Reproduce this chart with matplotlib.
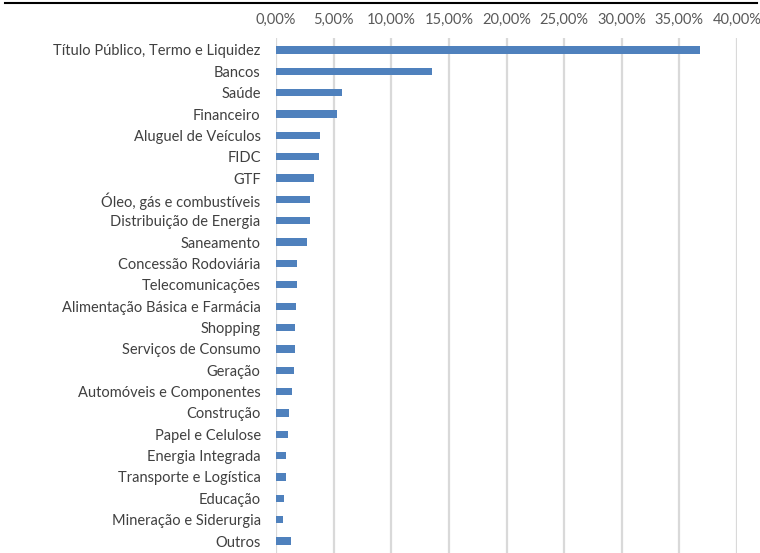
import numpy as np
import matplotlib.pyplot as plt
from matplotlib.lines import Line2D
from matplotlib.ticker import FuncFormatter

setores = [
    "Título Público, Termo e Liquidez", "Bancos", "Saúde", "Financeiro",
    "Aluguel de Veículos", "FIDC", "GTF", "Óleo, gás e combustíveis",
    "Distribuição de Energia", "Saneamento", "Concessão Rodoviária",
    "Telecomunicações", "Alimentação Básica e Farmácia", "Shopping",
    "Serviços de Consumo", "Geração", "Automóveis e Componentes",
    "Construção", "Papel e Celulose", "Energia Integrada",
    "Transporte e Logística", "Educação", "Mineração e Siderurgia", "Outros",
]
pesos = [
    36.8, 13.56, 5.74, 5.28, 3.86, 3.69, 3.28, 2.94, 2.93, 2.73, 1.84,
    1.81, 1.72, 1.69, 1.64, 1.52, 1.37, 1.11, 1.06, 0.91, 0.88, 0.68,
    0.65, 1.26,
]
ticks = np.arange(0, 45, 5)

plt.rcParams['font.family'] = ['Lato', 'DejaVu Sans']

fig = plt.figure(figsize=(7.6, 5.53), dpi=100)
ax = fig.add_axes([276 / 760, 0, (737 - 276) / 760, 1 - 38 / 553])

y = np.arange(len(setores))
ax.barh(y, pesos, height=0.34, color='#4F81BD', zorder=3)

ax.set_xlim(0, 40)
ax.set_ylim(len(setores) - 0.44, -0.56)
ax.set_yticks(y)
ax.set_yticklabels(setores, fontsize=10.5, color='#404040')
ax.set_xticks(ticks)
ax.xaxis.set_major_formatter(FuncFormatter(lambda v, p: f"{v:.2f}%".replace('.', ',')))
ax.xaxis.tick_top()
ax.tick_params(axis='x', length=0, pad=8, labelsize=10.5, labelcolor='#595959')
ax.tick_params(axis='y', length=0, pad=11)
ax.grid(axis='x', color='#D9D9D9', linewidth=1.6, zorder=0)
for s in ax.spines.values():
    s.set_visible(False)

fig.add_artist(Line2D([5 / 760, 757 / 760], [1 - 2.5 / 553, 1 - 2.5 / 553],
                      color='black', linewidth=1.5))

fig.savefig('out.png', dpi=100)
